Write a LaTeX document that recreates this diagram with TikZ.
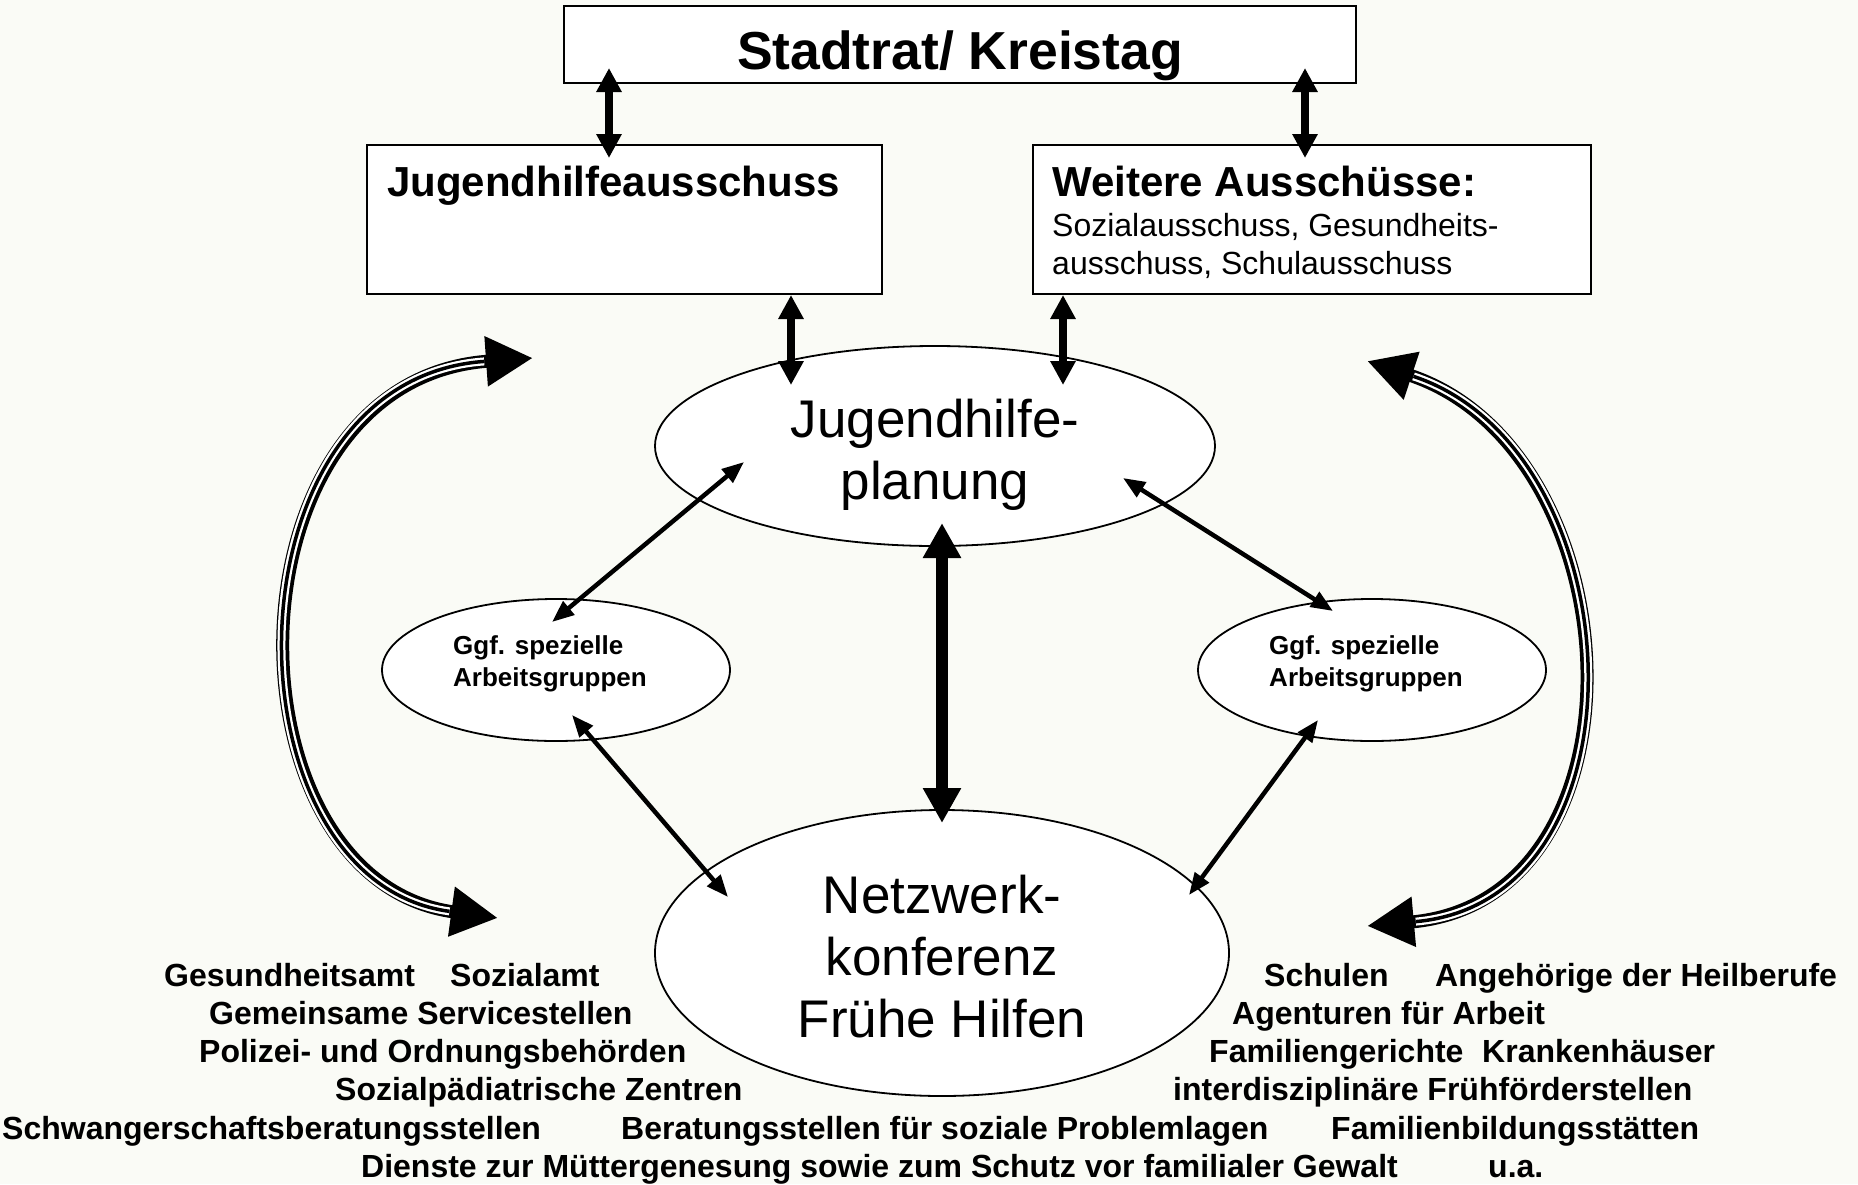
\documentclass[tikz,border=0pt]{standalone}
\usepackage{fontspec}
\setmainfont{Liberation Sans}
\usepackage{tikz}
\usetikzlibrary{shapes.geometric, arrows.meta}
\definecolor{paper}{RGB}{250,251,246}

\begin{document}
\begin{tikzpicture}[x=1pt, y=-1pt,
    panel/.style={draw, line width=2pt, fill=white, inner sep=0pt},
    blob/.style={draw, ellipse, line width=1.8pt, fill=white, inner sep=0pt},
    bigtext/.style={font=\fontsize{53}{62}\selectfont, align=center},
    smalltext/.style={font=\fontsize{26}{32}\selectfont\bfseries, align=left},
    member/.style={font=\fontsize{32}{38}\selectfont\bfseries, anchor=base west, inner sep=0pt},
    vlink/.style={line width=7.5pt, {Triangle[length=24pt,width=24pt]}-{Triangle[length=24pt,width=24pt]}},
    link/.style={line width=4.5pt, {Triangle[length=22pt,width=17pt]}-{Triangle[length=22pt,width=17pt]}},
    mainlink/.style={line width=12pt, {Triangle[length=35pt,width=36pt]}-{Triangle[length=35pt,width=36pt]}},
    triple/.style={line width=13pt, {Triangle[length=47pt,width=47pt]}-{Triangle[length=47pt,width=47pt]},
        postaction={draw=white, line width=8pt, arrows=-, shorten <=49pt, shorten >=49pt},
        postaction={draw=black, line width=3.5pt, arrows=-, shorten <=49pt, shorten >=49pt}}]

        % Paper
            \useasboundingbox (0,0) rectangle (1858,1184);
            \fill[paper] (0,0) rectangle (1858,1184);

        % Draw the boxes
            \node[panel, minimum width=792, minimum height=77] (stadtrat) at (960,44.5) {};
            \node[panel, minimum width=515, minimum height=149] (jha) at (624.5,219.5) {};
            \node[panel, minimum width=558, minimum height=149] (weitere) at (1312,219.5) {};
            \node[font=\fontsize{53.5}{60}\selectfont\bfseries, anchor=base, inner sep=0pt]
                (stadtrattext) at (960,69) {Stadtrat/ Kreistag};
            \node[font=\fontsize{42}{48}\selectfont\bfseries, anchor=base west, inner sep=0pt]
                (jhatext) at (387,196) {Jugendhilfeausschuss};
            \node[font=\fontsize{42}{48}\selectfont\bfseries, anchor=base west, inner sep=0pt]
                (weiteretext) at (1052,196) {Weitere Ausschüsse:};
            \node[font=\fontsize{32}{38}\selectfont, anchor=base west, inner sep=0pt, align=left]
                (weiterelist) at (1052,274.5) {Sozialausschuss, Gesundheits-\\ausschuss, Schulausschuss};

        % Draw the ellipses
            \node[blob, minimum width=560, minimum height=200] (jhp) at (935,446) {};
            \node[blob, minimum width=574, minimum height=286] (nwk) at (942,953) {};
            \node[blob, minimum width=348, minimum height=142] (ag1) at (556,670) {};
            \node[blob, minimum width=348, minimum height=142] (ag2) at (1372,670) {};
            \node[bigtext] (jhptext) at (935,455) {Jugendhilfe-\\planung};
            \node[bigtext] (nwktext) at (942,957) {Netzwerk-\\konferenz\\Frühe Hilfen};
            \node[smalltext] (ag1text) at (550,664) {Ggf. spezielle\\Arbeitsgruppen};
            \node[smalltext] (ag2text) at (1366,664) {Ggf. spezielle\\Arbeitsgruppen};

        % Draw the arrows
            \draw[vlink] ([shift={(-351,23.5)}]stadtrat.center) -- ([shift={(-15.5,-61.5)}]jha.center);
            \draw[vlink] ([shift={(345,23.5)}]stadtrat.center) -- ([shift={(-7,-61.5)}]weitere.center);
            \draw[vlink] ([shift={(166.5,75.5)}]jha.center) -- ([shift={(-144,-61)}]jhp.center);
            \draw[vlink] ([shift={(-249,75.5)}]weitere.center) -- ([shift={(128,-61)}]jhp.center);
            \draw[mainlink] ([shift={(7,77)}]jhp.center) -- ([shift={(0,-130)}]nwk.center);
            \draw[link] ([shift={(-191,16)}]jhp.center) -- ([shift={(-4,-48)}]ag1.center);
            \draw[link] ([shift={(16,45)}]ag1.center) -- ([shift={(-214,-56)}]nwk.center);
            \draw[link] ([shift={(188,32)}]jhp.center) -- ([shift={(-39,-59)}]ag2.center);
            \draw[link] ([shift={(-54,50)}]ag2.center) -- ([shift={(247,-58)}]nwk.center);

        % Draw the curved arrows
            \coordinate (ltop) at (533,358);
            \coordinate (lbot) at (498,918);
            \coordinate (rtop) at (1367,361);
            \coordinate (rbot) at (1367,926);
            \draw[triple] (ltop) .. controls (220,380) and (220,880) .. (lbot);
            \draw[triple] (rtop) .. controls (1636,450) and (1656,900) .. (rbot);

        % Members of the network
            \node[member] (gesundheitsamt) at (164,986) {Gesundheitsamt};
            \node[member] (sozialamt) at (450,986) {Sozialamt};
            \node[member] (servicestellen) at (209,1024) {Gemeinsame Servicestellen};
            \node[member] (polizei) at (199,1062) {Polizei- und Ordnungsbehörden};
            \node[member] (spz) at (335,1100) {Sozialpädiatrische Zentren};
            \node[member] (schwanger) at (2,1139) {Schwangerschaftsberatungsstellen};
            \node[member] (beratung) at (621,1139) {Beratungsstellen für soziale Problemlagen};
            \node[member] (fambildung) at (1331,1139) {Familienbildungsstätten};
            \node[member] (dienste) at (361,1177) {Dienste zur Müttergenesung sowie zum Schutz vor familialer Gewalt};
            \node[member] (ua) at (1488,1177) {u.a.};
            \node[member] (schulen) at (1264,986) {Schulen};
            \node[member] (heilberufe) at (1435,986) {Angehörige der Heilberufe};
            \node[member] (agenturen) at (1232,1024) {Agenturen für Arbeit};
            \node[member] (famgericht) at (1209,1062) {Familiengerichte};
            \node[member] (krankenh) at (1482,1062) {Krankenhäuser};
            \node[member] (fruehfoerder) at (1173,1100) {interdisziplinäre Frühförderstellen};
\end{tikzpicture}
\end{document}
